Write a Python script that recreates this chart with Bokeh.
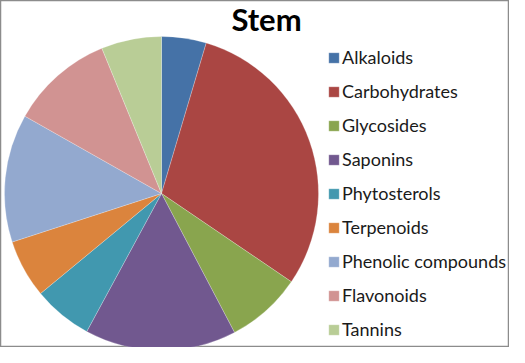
import math
from bokeh.plotting import figure
from bokeh.models import Range1d, Legend, LegendItem, Label, ColumnDataSource
from bokeh.embed import file_html
from bokeh.resources import INLINE

categories = ["Alkaloids", "Carbohydrates", "Glycosides", "Saponins", "Phytosterols",
              "Terpenoids", "Phenolic compounds", "Flavonoids", "Tannins"]
values = [4.6, 29.9, 7.8, 15.6, 6.1, 6.0, 13.2, 10.6, 6.2]
colors = ["#4572A7", "#AA4643", "#89A54E", "#71588F", "#4198AF",
          "#DB843D", "#93A9CF", "#D19392", "#B9CD96"]

W, H = 509, 347
total = sum(values)
starts, ends = [], []
acc = 0.0
for v in values:
    starts.append(math.pi / 2 - acc / total * 2 * math.pi)
    acc += v
    ends.append(math.pi / 2 - acc / total * 2 * math.pi)

src = ColumnDataSource(dict(cat=categories, val=values, start=starts, end=ends, color=colors))

p = figure(width=W, height=H, output_backend="svg", toolbar_location=None,
           x_range=Range1d(0, W), y_range=Range1d(0, H), min_border=0)
p.axis.visible = False
p.grid.visible = False
p.outline_line_color = "#8c8c8c"
p.outline_line_width = 1.5

r = p.wedge(x=161, y=H - 193, radius=157, start_angle="start", end_angle="end",
            direction="clock", fill_color="color", line_color="white", line_width=0.4,
            line_alpha=0.6, source=src)

items = [LegendItem(label=c, renderers=[r], index=i) for i, c in enumerate(categories)]
legend = Legend(items=items, location=(327, 6), padding=0, margin=0,
                border_line_color=None, background_fill_alpha=0,
                glyph_width=13, glyph_height=13, label_height=24, spacing=10,
                label_standoff=2, label_text_font="Lato", label_text_font_size="18px",
                label_text_color="#1a1a1a")
p.add_layout(legend)

title = Label(x=266, y=H - 18, text="Stem", text_font="Lato", text_font_style="bold",
              text_font_size="31px", text_align="center", text_baseline="middle",
              text_color="black")
p.add_layout(title)

open("out.html", "w").write(file_html(p, INLINE))
